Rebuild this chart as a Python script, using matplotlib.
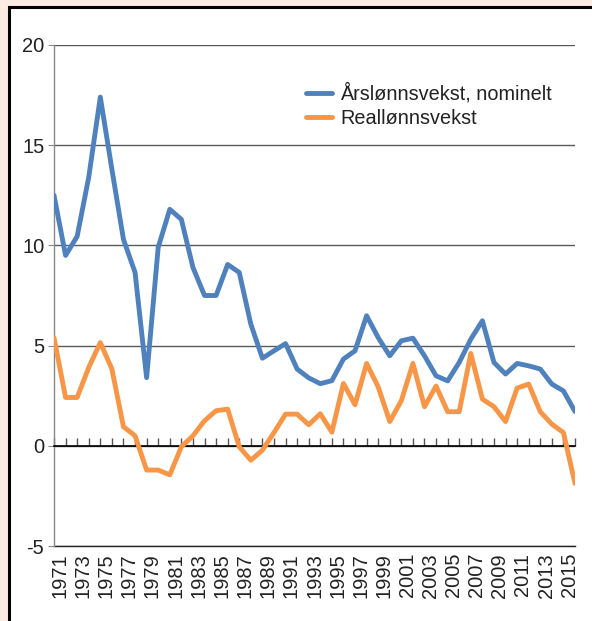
import matplotlib
matplotlib.use("Agg")
import matplotlib.pyplot as plt
from matplotlib.patches import Rectangle

plt.rcParams['font.family'] = ['Liberation Sans', 'DejaVu Sans']
plt.rcParams['axes.unicode_minus'] = False

# category labels (one per year, every other one shown)
years = ['1971', '1972', '1973', '1974', '1975', '1976', '1977', '1978', '1979', '1980',
         '1981', '1982', '1983', '1984', '1985', '1986', '1987', '1988', '1989', '1990',
         '1991', '1992', '1993', '1994', '1995', '1996', '1997', '1998', '1999', '2000',
         '2001', '2002', '2003', '2004', '2005', '2006', '2007', '2008', '2009', '2010',
         '2011', '2012', '2013', '2014', '2015']

# line points sit on the category boundaries (46 points)
nominal = [12.5, 9.5, 10.45, 13.4, 17.4, 13.8, 10.3, 8.65, 3.4, 9.9,
           11.8, 11.3, 8.9, 7.5, 7.5, 9.05, 8.65, 6.07, 4.37, 4.74,
           5.1, 3.83, 3.39, 3.1, 3.25, 4.33, 4.74, 6.49, 5.4, 4.49,
           5.24, 5.37, 4.49, 3.49, 3.24, 4.16, 5.32, 6.24, 4.16, 3.58,
           4.11, 3.99, 3.83, 3.08, 2.74, 1.71]
real = [5.4, 2.41, 2.41, 3.91, 5.15, 3.83, 0.95, 0.5, -1.21, -1.21,
        -1.45, -0.05, 0.5, 1.25, 1.75, 1.83, -0.05, -0.72, -0.22, 0.66,
        1.58, 1.58, 1.05, 1.6, 0.68, 3.11, 2.05, 4.11, 2.94, 1.21,
        2.25, 4.11, 1.95, 2.98, 1.7, 1.7, 4.61, 2.33, 1.95, 1.21,
        2.88, 3.08, 1.7, 1.08, 0.66, -1.88]

W, H = 592, 621
fig = plt.figure(figsize=(W / 100, H / 100), dpi=100, facecolor='#fcebe3')

# white panel with black frame
fig.add_artist(Rectangle((8.7 / W, -0.05), 1.2, 1 - 7.3 / H + 0.05,
                         transform=fig.transFigure, facecolor='white',
                         edgecolor='black', linewidth=2.2, zorder=0))

ax = fig.add_axes([54 / W, 1 - 546 / H, 521 / W, 501 / H])
ax.set_facecolor('none')

x = list(range(len(nominal)))
ax.plot(x, nominal, color='#4f81bd', lw=3.5, solid_joinstyle='round',
        solid_capstyle='round', label='Årslønnsvekst, nominelt', zorder=4)
ax.plot(x, real, color='#f79646', lw=3.5, solid_joinstyle='round',
        solid_capstyle='round', label='Reallønnsvekst', zorder=3)

ax.set_xlim(0, len(years))
ax.set_ylim(-5, 20)

# y axis and gridlines
ax.set_yticks([-5, 0, 5, 10, 15, 20])
ax.yaxis.grid(True, color='#5a5a5a', lw=1)
ax.set_axisbelow(True)
ax.tick_params(axis='y', direction='out', length=4, color='#888888',
               labelsize=14.5, pad=3, labelcolor='#222222')
ax.spines['left'].set_color('#888888')
ax.spines['left'].set_linewidth(1)
ax.spines['top'].set_visible(False)
ax.spines['right'].set_visible(False)

# zero line with year tick marks
ax.spines['bottom'].set_position(('data', 0))
ax.spines['bottom'].set_color('black')
ax.spines['bottom'].set_linewidth(1.2)
ax.set_xticks(range(len(years) + 1))
ax.tick_params(axis='x', direction='in', length=6, color='#555555',
               width=1, labelbottom=False)

# year labels along the bottom edge
sec = ax.secondary_xaxis(0)
sec.set_xticks([i + 0.5 for i in range(0, len(years), 2)],
               labels=years[::2], rotation=90)
sec.tick_params(length=0, pad=5, labelsize=14.5, labelcolor='#222222')
sec.spines['bottom'].set_color('#222222')
sec.spines['bottom'].set_linewidth(1)

ax.legend(loc='upper left', bbox_to_anchor=(306 / W, 1 - 83 / H),
          bbox_transform=fig.transFigure, frameon=False, fontsize=14.3,
          handlelength=1.32, handletextpad=0.4, labelspacing=0.28,
          borderpad=0, borderaxespad=0, labelcolor='#222222')

fig.savefig('out.png', dpi=100, facecolor=fig.get_facecolor())
